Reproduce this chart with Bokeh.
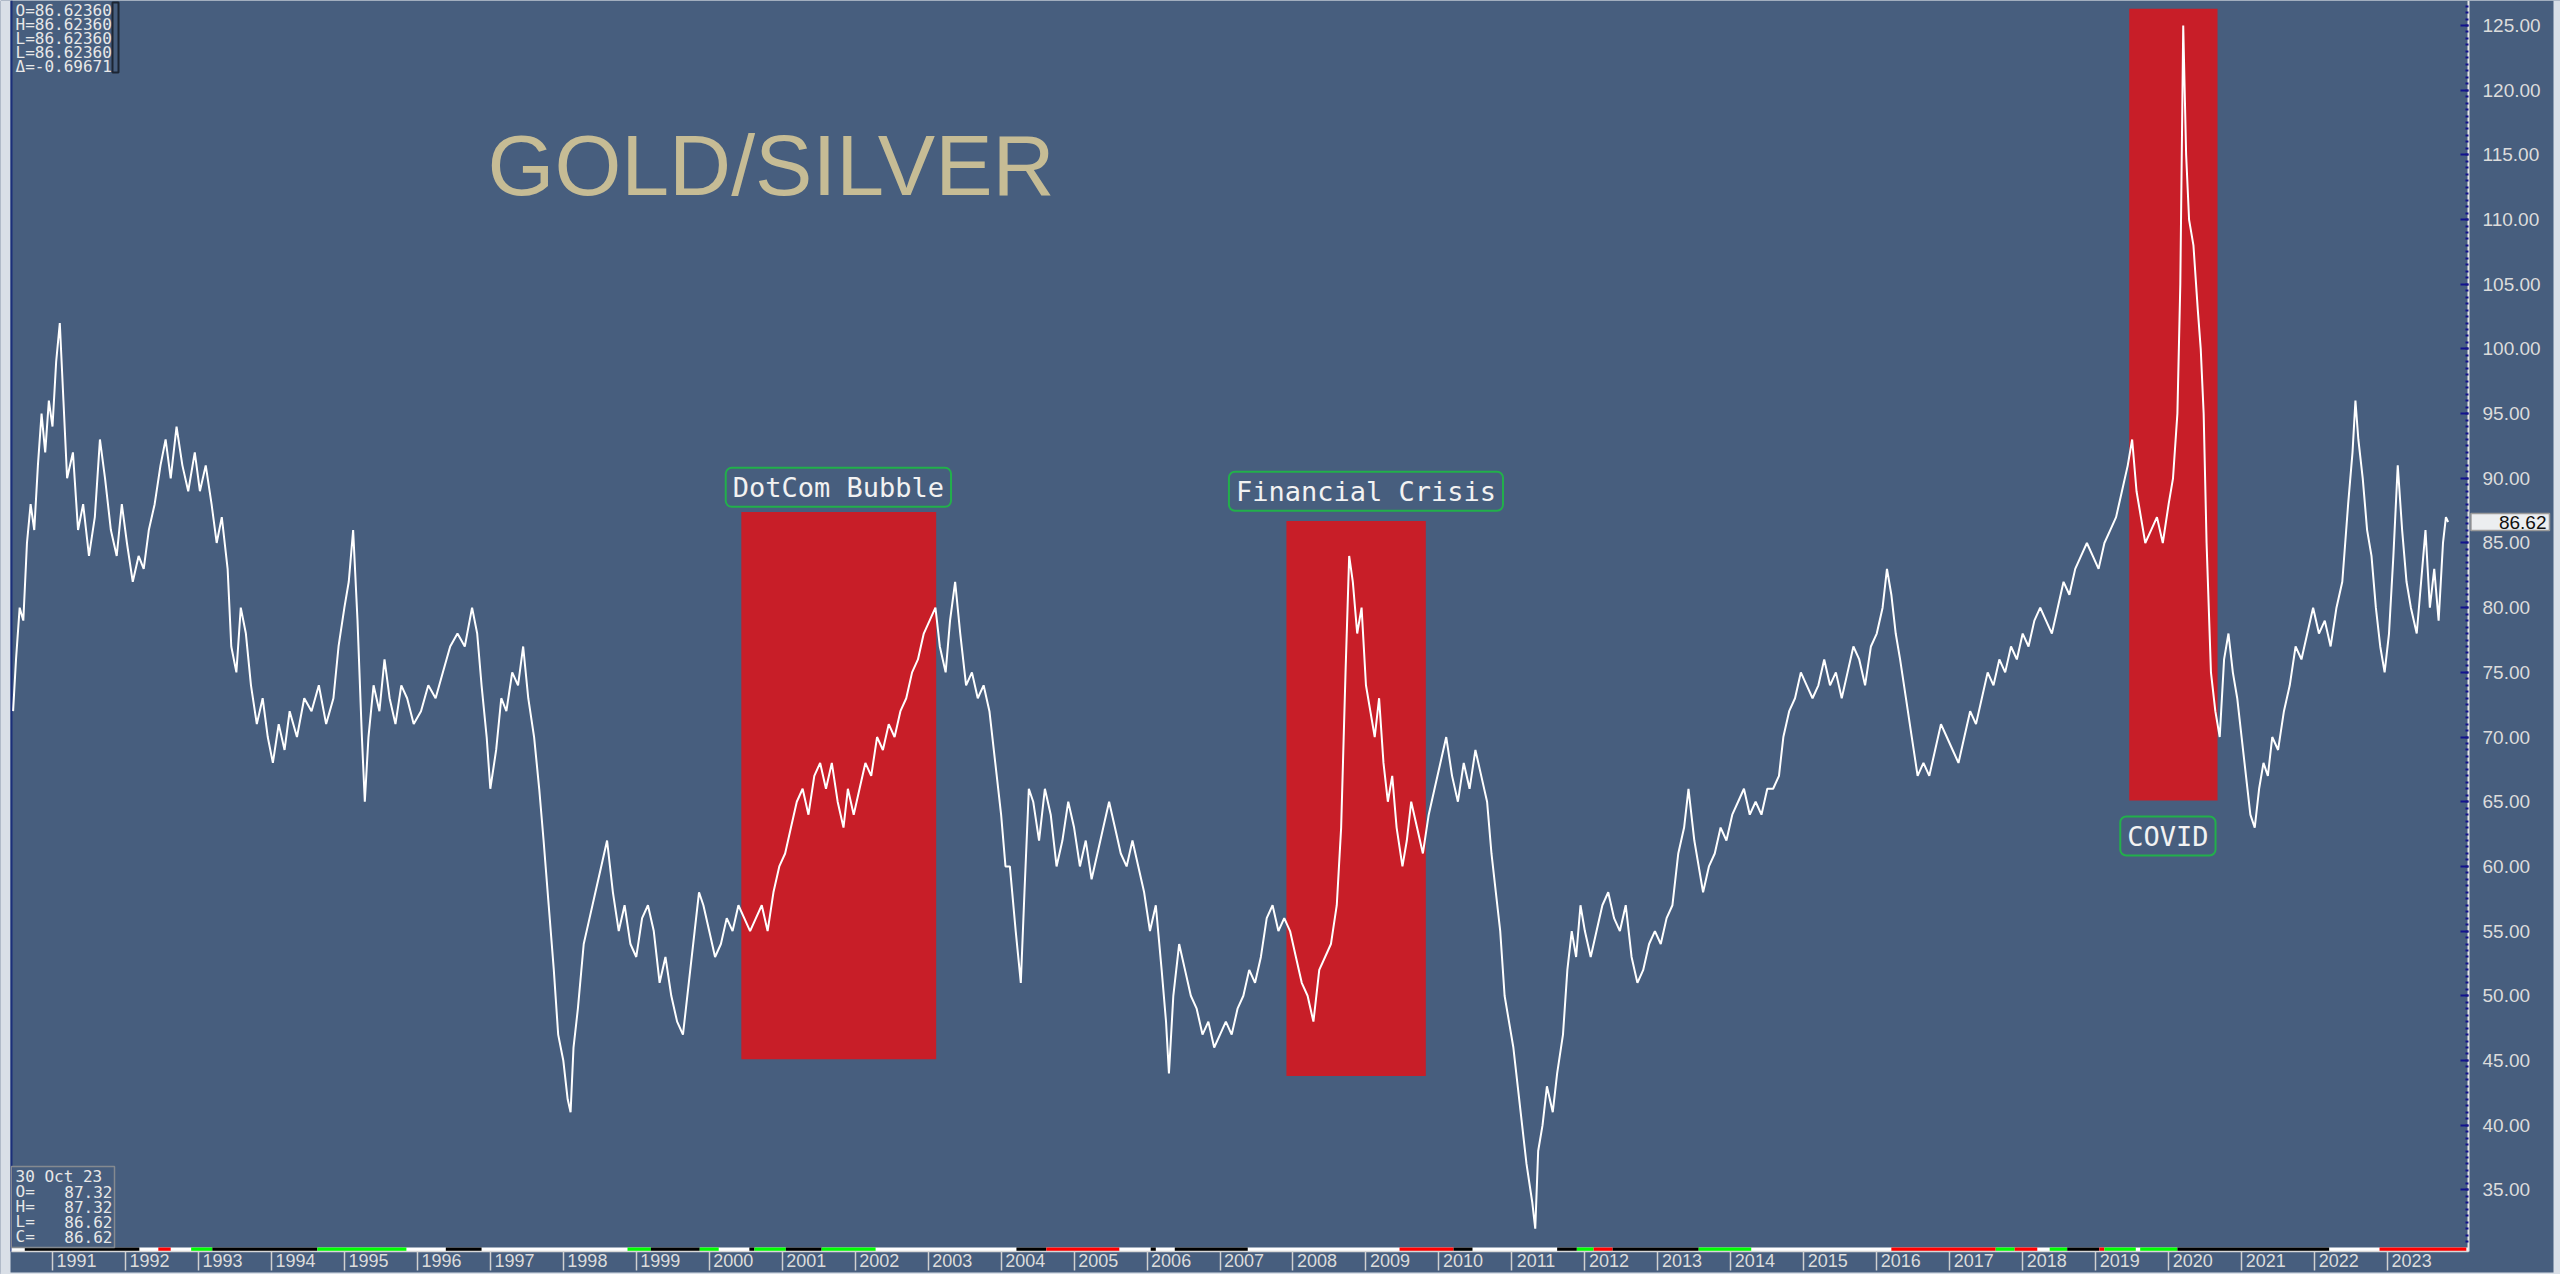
from bokeh.plotting import figure
from bokeh.models import (Range1d, FixedTicker, NumeralTickFormatter, Label, ColumnDataSource,
                          CustomJSTickFormatter)
from bokeh.embed import file_html
from bokeh.resources import INLINE

# ---------------- data ----------------
years = [
    1990.46, 1990.50, 1990.55, 1990.60, 1990.65, 1990.70, 1990.75, 1990.80, 1990.85, 1990.90, 1990.95,
    1991.00, 1991.05, 1991.10, 1991.15, 1991.20, 1991.28, 1991.35, 1991.42, 1991.50, 1991.58, 1991.65,
    1991.72, 1991.80, 1991.88, 1991.95, 1992.02, 1992.10, 1992.18, 1992.25, 1992.32, 1992.40, 1992.48,
    1992.55, 1992.62, 1992.70, 1992.78, 1992.86, 1992.95, 1993.02, 1993.10, 1993.18, 1993.25, 1993.32,
    1993.40, 1993.45, 1993.52, 1993.58, 1993.65, 1993.72, 1993.80, 1993.88, 1993.95, 1994.02, 1994.10,
    1994.18, 1994.25, 1994.35, 1994.45, 1994.55, 1994.65, 1994.75, 1994.85, 1994.92, 1995.00, 1995.06,
    1995.12, 1995.18, 1995.24, 1995.28, 1995.33, 1995.40, 1995.48, 1995.55, 1995.62, 1995.70, 1995.78,
    1995.86, 1995.95, 1996.05, 1996.15, 1996.25, 1996.35, 1996.45, 1996.55, 1996.65, 1996.75, 1996.82,
    1996.88, 1996.95, 1997.00, 1997.08, 1997.15, 1997.22, 1997.30, 1997.38, 1997.45, 1997.52, 1997.60,
    1997.67, 1997.73, 1997.80, 1997.87, 1997.93, 1998.00, 1998.06, 1998.10, 1998.14, 1998.20, 1998.28,
    1998.36, 1998.44, 1998.52, 1998.60, 1998.68, 1998.76, 1998.84, 1998.92, 1999.00, 1999.08, 1999.16,
    1999.24, 1999.32, 1999.40, 1999.48, 1999.56, 1999.64, 1999.72, 1999.80, 1999.86, 1999.92, 2000.00,
    2000.08, 2000.16, 2000.24, 2000.32, 2000.40, 2000.48, 2000.56, 2000.64, 2000.72, 2000.80, 2000.88,
    2000.96, 2001.04, 2001.12, 2001.20, 2001.28, 2001.36, 2001.44, 2001.52, 2001.60, 2001.68, 2001.76,
    2001.84, 2001.90, 2001.98, 2002.06, 2002.14, 2002.22, 2002.30, 2002.38, 2002.46, 2002.54, 2002.62,
    2002.70, 2002.78, 2002.86, 2002.94, 2003.02, 2003.10, 2003.16, 2003.24, 2003.30, 2003.37, 2003.44,
    2003.52, 2003.60, 2003.68, 2003.76, 2003.84, 2003.92, 2004.00, 2004.06, 2004.12, 2004.20, 2004.27,
    2004.32, 2004.38, 2004.44, 2004.52, 2004.60, 2004.68, 2004.76, 2004.84, 2004.92, 2005.00, 2005.08,
    2005.16, 2005.24, 2005.32, 2005.40, 2005.48, 2005.56, 2005.64, 2005.72, 2005.80, 2005.88, 2005.96,
    2006.04, 2006.12, 2006.20, 2006.26, 2006.30, 2006.36, 2006.44, 2006.52, 2006.60, 2006.68, 2006.76,
    2006.84, 2006.92, 2007.00, 2007.08, 2007.16, 2007.24, 2007.32, 2007.40, 2007.48, 2007.56, 2007.64,
    2007.72, 2007.80, 2007.88, 2007.96, 2008.04, 2008.12, 2008.20, 2008.28, 2008.36, 2008.44, 2008.52,
    2008.60, 2008.66, 2008.72, 2008.77, 2008.82, 2008.88, 2008.94, 2009.00, 2009.06, 2009.12, 2009.18,
    2009.24, 2009.30, 2009.36, 2009.42, 2009.50, 2009.56, 2009.62, 2009.70, 2009.78, 2009.86, 2009.94,
    2010.02, 2010.10, 2010.18, 2010.26, 2010.34, 2010.42, 2010.50, 2010.58, 2010.66, 2010.72, 2010.78,
    2010.84, 2010.90, 2010.96, 2011.02, 2011.08, 2011.14, 2011.20, 2011.28, 2011.32, 2011.36, 2011.42,
    2011.48, 2011.56, 2011.62, 2011.70, 2011.76, 2011.82, 2011.88, 2011.94, 2012.00, 2012.08, 2012.16,
    2012.24, 2012.32, 2012.40, 2012.48, 2012.56, 2012.64, 2012.72, 2012.80, 2012.88, 2012.96, 2013.04,
    2013.12, 2013.20, 2013.28, 2013.36, 2013.42, 2013.50, 2013.56, 2013.62, 2013.70, 2013.78, 2013.86,
    2013.94, 2014.02, 2014.10, 2014.18, 2014.26, 2014.34, 2014.42, 2014.50, 2014.58, 2014.66, 2014.72,
    2014.80, 2014.88, 2014.96, 2015.04, 2015.12, 2015.20, 2015.28, 2015.36, 2015.44, 2015.52, 2015.60,
    2015.68, 2015.76, 2015.84, 2015.92, 2016.00, 2016.08, 2016.14, 2016.20, 2016.26, 2016.32, 2016.40,
    2016.48, 2016.56, 2016.64, 2016.72, 2016.80, 2016.88, 2016.96, 2017.04, 2017.12, 2017.20, 2017.28,
    2017.36, 2017.44, 2017.52, 2017.60, 2017.68, 2017.76, 2017.84, 2017.92, 2018.00, 2018.08, 2018.16,
    2018.24, 2018.32, 2018.40, 2018.48, 2018.56, 2018.64, 2018.72, 2018.80, 2018.88, 2018.96, 2019.04,
    2019.12, 2019.20, 2019.28, 2019.36, 2019.44, 2019.50, 2019.56, 2019.62, 2019.68, 2019.76, 2019.84,
    2019.92, 2020.00, 2020.06, 2020.12, 2020.16, 2020.20, 2020.24, 2020.28, 2020.34, 2020.40, 2020.44,
    2020.48, 2020.52, 2020.58, 2020.64, 2020.70, 2020.76, 2020.82, 2020.88, 2020.94, 2021.00, 2021.06,
    2021.12, 2021.18, 2021.24, 2021.30, 2021.36, 2021.42, 2021.50, 2021.58, 2021.66, 2021.74, 2021.82,
    2021.90, 2021.98, 2022.06, 2022.14, 2022.22, 2022.30, 2022.38, 2022.46, 2022.52, 2022.56, 2022.60,
    2022.66, 2022.72, 2022.78, 2022.84, 2022.90, 2022.96, 2023.02, 2023.08, 2023.14, 2023.20, 2023.26,
    2023.32, 2023.40, 2023.46, 2023.52, 2023.58, 2023.64, 2023.70, 2023.76, 2023.80, 2023.83,
]
ratio = [
    72, 76, 80, 79, 85, 88, 86, 91, 95, 92, 96,
    94, 99, 102, 96, 90, 92, 86, 88, 84, 87, 93,
    90, 86, 84, 88, 85, 82, 84, 83, 86, 88, 91,
    93, 90, 94, 91, 89, 92, 89, 91, 88, 85, 87,
    83, 77, 75, 80, 78, 74, 71, 73, 70, 68, 71,
    69, 72, 70, 73, 72, 74, 71, 73, 77, 80, 82,
    86, 79, 70, 65, 70, 74, 72, 76, 73, 71, 74,
    73, 71, 72, 74, 73, 75, 77, 78, 77, 80, 78,
    74, 70, 66, 69, 73, 72, 75, 74, 77, 73, 70,
    66, 62, 57, 52, 47, 45, 42, 41, 46, 49, 54,
    56, 58, 60, 62, 58, 55, 57, 54, 53, 56, 57,
    55, 51, 53, 50, 48, 47, 51, 55, 58, 57, 55,
    53, 54, 56, 55, 57, 56, 55, 56, 57, 55, 58,
    60, 61, 63, 65, 66, 64, 67, 68, 66, 68, 65,
    63, 66, 64, 66, 68, 67, 70, 69, 71, 70, 72,
    73, 75, 76, 78, 79, 80, 77, 75, 79, 82, 78,
    74, 75, 73, 74, 72, 68, 64, 60, 60, 55, 51,
    58, 66, 65, 62, 66, 64, 60, 62, 65, 63, 60,
    62, 59, 61, 63, 65, 63, 61, 60, 62, 60, 58,
    55, 57, 52, 48, 44, 50, 54, 52, 50, 49, 47,
    48, 46, 47, 48, 47, 49, 50, 52, 51, 53, 56,
    57, 55, 56, 55, 53, 51, 50, 48, 52, 53, 54,
    57, 63, 75, 84, 82, 78, 80, 74, 72, 70, 73,
    68, 65, 67, 63, 60, 62, 65, 63, 61, 64, 66,
    68, 70, 67, 65, 68, 66, 69, 67, 65, 61, 58,
    55, 50, 48, 46, 43, 40, 37, 34, 32, 38, 40,
    43, 41, 44, 47, 52, 55, 53, 57, 55, 53, 55,
    57, 58, 56, 55, 57, 53, 51, 52, 54, 55, 54,
    56, 57, 61, 63, 66, 62, 60, 58, 60, 61, 63,
    62, 64, 65, 66, 64, 65, 64, 66, 66, 67, 70,
    72, 73, 75, 74, 73, 74, 76, 74, 75, 73, 75,
    77, 76, 74, 77, 78, 80, 83, 81, 78, 76, 73,
    70, 67, 68, 67, 69, 71, 70, 69, 68, 70, 72,
    71, 73, 75, 74, 76, 75, 77, 76, 78, 77, 79,
    80, 79, 78, 80, 82, 81, 83, 84, 85, 84, 83,
    85, 86, 87, 89, 91, 93, 89, 87, 85, 86, 87,
    85, 88, 90, 95, 105, 125, 115, 110, 108, 103, 100,
    95, 85, 75, 72, 70, 76, 78, 75, 73, 70, 67,
    64, 63, 66, 68, 67, 70, 69, 72, 74, 77, 76,
    78, 80, 78, 79, 77, 80, 82, 88, 92, 96, 93,
    90, 86, 84, 80, 77, 75, 78, 84, 91, 86, 82,
    80, 78, 82, 86, 80, 83, 79, 85, 87, 86.62,
]

event_names = ["DotCom Bubble", "Financial Crisis", "COVID"]
event_start = [2000.44, 2007.91, 2019.46]
event_end = [2003.11, 2009.82, 2020.67]
event_top = [87.4, 86.7, 126.3]
event_bottom = [45.1, 43.8, 65.1]
event_label_x = [2001.77, 2009.00, 2019.99]
event_label_y = [89.3, 89.0, 62.35]

year_ticks = list(range(1991, 2024))
y_ticks = list(range(35, 130, 5))

strip_start = [1990.62, 1992.45, 1992.90, 1993.19, 1994.63, 1996.39, 1998.88, 1999.20, 1999.87, 2000.55,
               2000.62, 2001.05, 2001.54, 2004.21, 2004.62, 2006.05, 2006.38, 2009.46, 2010.20, 2011.62,
               2011.89, 2012.12, 2012.38, 2013.56, 2016.20, 2017.63, 2017.89, 2018.37, 2018.61, 2019.05,
               2019.12, 2019.61, 2020.12, 2022.89]
strip_end = [1992.19, 1992.62, 1993.19, 1994.63, 1995.85, 1996.88, 1999.20, 1999.87, 2000.13, 2000.62,
             2001.05, 2001.54, 2002.28, 2004.62, 2005.62, 2006.12, 2007.38, 2010.20, 2010.46, 2011.89,
             2012.12, 2012.38, 2013.56, 2014.28, 2017.63, 2017.89, 2018.20, 2018.61, 2019.05, 2019.12,
             2019.55, 2020.12, 2022.20, 2024.08]
strip_color = ["black", "red", "lime", "black", "lime", "black", "lime", "black", "lime", "black",
               "lime", "black", "lime", "black", "red", "black", "black", "red", "black", "black",
               "lime", "red", "black", "lime", "red", "lime", "red", "lime", "black", "red",
               "lime", "lime", "black", "red"]

last_value = 86.62
title_text = "GOLD/SILVER"
info_top = ["O=86.62360", "H=86.62360", "L=86.62360", "L=86.62360", "Δ=-0.69671"]
info_date = "30 Oct 23"
info_keys = ["O=", "H=", "L=", "C="]
info_vals = ["87.32", "87.32", "86.62", "86.62"]

# ---------------- layout ----------------
BG = "#475e7e"
LIGHT = "#d9dfe7"
W, H = 2560, 1274
PXX = 72.97    # pixels per year
PXY = 12.937   # pixels per ratio unit


def dx(img_x):
    return 1991 + (img_x - 52) / PXX


def dy(img_y):
    return 125 - (img_y - 25) / PXY


X0, X1 = dx(0), dx(W)
Y0, Y1 = dy(H), dy(0)
XM = dx(2468)       # right edge of the price pane
YB = dy(1251)       # bottom edge of the price pane
XL = dx(11)         # left edge of the price pane

p = figure(width=W, height=H, x_range=Range1d(X0, X1), y_range=Range1d(Y0, Y1),
           y_axis_location="right", output_backend="svg", toolbar_location=None,
           background_fill_color=BG, border_fill_color=BG, outline_line_color=None,
           min_border_left=0, min_border_right=0, min_border_top=0, min_border_bottom=0)
p.grid.visible = False

# frame borders of the original window
p.quad(left=[X0], right=[dx(10)], bottom=[Y0], top=[Y1], fill_color=LIGHT, line_color=None)
p.quad(left=[dx(2553)], right=[X1], bottom=[Y0], top=[Y1], fill_color=LIGHT, line_color=None)
p.quad(left=[X0], right=[X1], bottom=[Y0], top=[dy(1272)], fill_color=LIGHT, line_color=None)
p.segment(x0=[XL], y0=[YB], x1=[XL], y1=[Y1], line_color="#1b2f7a", line_width=2)

xa = p.xaxis[0]
xa.fixed_location = YB
xa.bounds = (XL, XM)
xa.ticker = FixedTicker(ticks=[y + 0.33 for y in year_ticks], minor_ticks=year_ticks)
xa.formatter = CustomJSTickFormatter(code="return String(Math.floor(tick));")
xa.major_tick_in = 0
xa.major_tick_out = 0
xa.major_tick_line_color = None
xa.minor_tick_in = 0
xa.minor_tick_out = 19
xa.minor_tick_line_color = "#d0d0d0"
xa.minor_tick_line_width = 1.5
xa.major_label_standoff = -17
xa.major_label_text_font = "Liberation Sans"
xa.major_label_text_font_size = "18px"
xa.major_label_text_color = "#dcdcdc"
xa.axis_line_color = "#d8d8d8"
xa.axis_line_width = 1.5

ya = p.yaxis[0]
ya.fixed_location = XM
ya.bounds = (YB, Y1)
ya.ticker = FixedTicker(ticks=y_ticks, minor_ticks=[v / 2 for v in range(62, 254)])
ya.formatter = NumeralTickFormatter(format="0.00")
ya.major_tick_in = 8
ya.major_tick_out = 0
ya.major_tick_line_color = "#12128c"
ya.major_tick_line_width = 2
ya.minor_tick_in = 3
ya.minor_tick_out = 0
ya.minor_tick_line_color = "#12128c"
ya.minor_tick_line_width = 2
ya.axis_line_color = "#e6e6e6"
ya.axis_line_width = 2
ya.major_label_text_color = "#dcdcdc"
ya.major_label_text_font = "Liberation Sans"
ya.major_label_text_font_size = "19px"
ya.major_label_standoff = 14

# event boxes
ev = ColumnDataSource(dict(left=event_start, right=event_end, top=event_top, bottom=event_bottom))
p.quad(left="left", right="right", top="top", bottom="bottom", source=ev,
       fill_color="#c81e28", line_color=None)

# series
p.line(years, ratio, line_color="white", line_width=2)

# indicator strip at the bottom of the pane
p.quad(left=[XL], right=[XM], bottom=[YB], top=[dy(1247)], fill_color="white", line_color=None)
st = ColumnDataSource(dict(left=strip_start, right=strip_end, color=strip_color))
p.quad(left="left", right="right", bottom=YB, top=dy(1247), fill_color="color",
       line_color=None, source=st)

# event labels
for name, lx, ly in zip(event_names, event_label_x, event_label_y):
    p.add_layout(Label(x=lx, y=ly, text=name, text_align="center", text_baseline="middle",
                       text_font="DejaVu Sans Mono", text_font_size="27px", text_color="#f2f2f2",
                       border_line_color="#22b04b", border_line_width=2, border_radius=6,
                       padding=dict(left=7, right=7, top=4, bottom=4),
                       background_fill_color=None))

# title
p.add_layout(Label(x=dx(487), y=dy(164), text=title_text, text_align="left",
                   text_baseline="alphabetic", text_font="Liberation Sans",
                   text_font_size="86px", text_color="#c6bc95"))

# last value marker on the price scale
p.add_layout(Label(x=dx(2549), y=last_value, text=f"{last_value:.2f}", text_align="right",
                   text_baseline="middle", text_font="Liberation Sans", text_font_size="19px",
                   text_color="#111111", background_fill_color="#eceef0",
                   border_line_color="#9a9a9a", border_line_width=1.5,
                   padding=dict(left=28, right=3, top=2, bottom=2)))

# top-left info
for i, t in enumerate(info_top):
    p.add_layout(Label(x=dx(15), y=dy(10 + 14 * i), text=t, text_align="left",
                       text_baseline="middle", text_font="DejaVu Sans Mono",
                       text_font_size="16px", text_color="#e8e8e8"))
p.quad(left=[dx(112)], right=[dx(118)], top=[dy(2)], bottom=[dy(72)], fill_color=None,
       line_color="#1c2533", line_width=2)

# bottom-left info box
p.quad(left=[dx(11)], right=[dx(114)], top=[dy(1166)], bottom=[dy(1247)], fill_color=None,
       line_color="#858a90", line_width=1.5)
p.add_layout(Label(x=dx(15), y=dy(1176), text=info_date, text_align="left", text_baseline="middle",
                   text_font="DejaVu Sans Mono", text_font_size="16px", text_color="#e8e8e8"))
for i, (k, v) in enumerate(zip(info_keys, info_vals)):
    yy = dy(1191 + 15 * i)
    p.add_layout(Label(x=dx(15), y=yy, text=k, text_align="left", text_baseline="middle",
                       text_font="DejaVu Sans Mono", text_font_size="16px", text_color="#e8e8e8"))
    p.add_layout(Label(x=dx(112), y=yy, text=v, text_align="right", text_baseline="middle",
                       text_font="DejaVu Sans Mono", text_font_size="16px", text_color="#e8e8e8"))

open("out.html", "w").write(file_html(p, INLINE))
